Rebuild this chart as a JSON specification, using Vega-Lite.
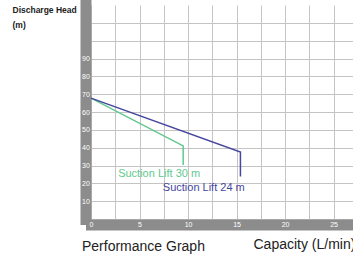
{
  "$schema": "https://vega.github.io/schema/vega-lite/v6.json",
  "width": 262,
  "height": 214,
  "autosize": {"type": "none"},
  "padding": {"left": 91, "top": 5, "right": 0, "bottom": 40},
  "background": "white",
  "config": {"view": {"stroke": null}, "font": "Liberation Sans"},
  "title": {"text": "Performance Graph", "orient": "bottom", "anchor": "start", "frame": "group", "fontSize": 14, "fontWeight": "normal", "color": "#222222", "dx": -9, "dy": -11, "offset": 0},
  "data": {"values": [
    {"kind": "line", "series": "Suction Lift 30 m", "idx": 0, "capacity": 0, "head": 67.8},
    {"kind": "line", "series": "Suction Lift 30 m", "idx": 1, "capacity": 9.5, "head": 41},
    {"kind": "line", "series": "Suction Lift 30 m", "idx": 2, "capacity": 9.5, "head": 30.3},
    {"kind": "line", "series": "Suction Lift 24 m", "idx": 0, "capacity": 0, "head": 67.8},
    {"kind": "line", "series": "Suction Lift 24 m", "idx": 1, "capacity": 15.4, "head": 37.5},
    {"kind": "line", "series": "Suction Lift 24 m", "idx": 2, "capacity": 15.4, "head": 23.8},
    {"kind": "label", "series": "Suction Lift 30 m", "idx": 0, "capacity": 2.8, "head": 25.3},
    {"kind": "label", "series": "Suction Lift 24 m", "idx": 0, "capacity": 7.4, "head": 17.4}
  ]},
  "resolve": {"axis": {"x": "independent", "y": "independent"}},
  "layer": [
    {
      "transform": [{"filter": "datum.kind == 'line'"}],
      "mark": {"type": "line", "strokeWidth": 1.5},
      "encoding": {
        "x": {"field": "capacity", "type": "quantitative", "scale": {"domain": [0, 27], "nice": false, "zero": false},
          "axis": {"orient": "bottom", "title": "Capacity (L/min)", "titleX": 162, "titleY": 19.5, "titleAlign": "left", "titleBaseline": "middle", "titleFontSize": 14, "titleFontWeight": "normal", "titleColor": "#222222",
            "values": [0, 2.5, 5, 7.5, 10, 12.5, 15, 17.5, 20, 22.5, 25],
            "labels": false, "ticks": false, "domainColor": "#8c8c8c", "domainWidth": 11, "domainCap": "square", "offset": 5.5,
            "grid": true, "gridColor": "#c4c4c4", "gridWidth": 1}},
        "y": {"field": "head", "type": "quantitative", "scale": {"domain": [0, 120], "nice": false},
          "axis": {"orient": "left", "title": ["Discharge Head", "(m)"], "titleAngle": 0, "titleX": -73.5, "titleY": 7.3, "titleAlign": "left", "titleBaseline": "alphabetic", "titleFontSize": 8.5, "titleFontWeight": "bold", "titleLineHeight": 15, "titleColor": "#222222",
            "values": [0, 10, 20, 30, 40, 50, 60, 70, 80, 90, 100, 110],
            "labels": false, "ticks": false, "domainColor": "#8c8c8c", "domainWidth": 11, "domainCap": "square", "offset": 5.5,
            "grid": true, "gridColor": "#c4c4c4", "gridWidth": 1}},
        "color": {"field": "series", "type": "nominal", "scale": {"domain": ["Suction Lift 30 m", "Suction Lift 24 m"], "range": ["#62c98e", "#46469e"]}, "legend": null},
        "order": {"field": "idx", "type": "quantitative"}
      }
    },
    {
      "transform": [{"filter": "datum.kind == 'label'"}],
      "mark": {"type": "text", "align": "left", "baseline": "middle", "fontSize": 11},
      "encoding": {
        "x": {"field": "capacity", "type": "quantitative",
          "axis": {"orient": "bottom", "title": null, "values": [0, 5, 10, 15, 20, 25], "domain": false, "grid": false, "ticks": false, "zindex": 2,
            "labelColor": "white", "labelFontSize": 7, "labelBaseline": "middle", "labelPadding": 0, "labelFlush": false, "labelOverlap": false, "offset": 5.5}},
        "y": {"field": "head", "type": "quantitative",
          "axis": {"orient": "left", "title": null, "values": [10, 20, 30, 40, 50, 60, 70, 80, 90], "domain": false, "grid": false, "ticks": false, "zindex": 2,
            "labelColor": "white", "labelFontSize": 7, "labelAlign": "center", "labelBaseline": "middle", "labelPadding": 0, "labelOverlap": false, "offset": 5.5}},
        "text": {"field": "series"},
        "color": {"field": "series", "type": "nominal", "legend": null}
      }
    }
  ]
}
